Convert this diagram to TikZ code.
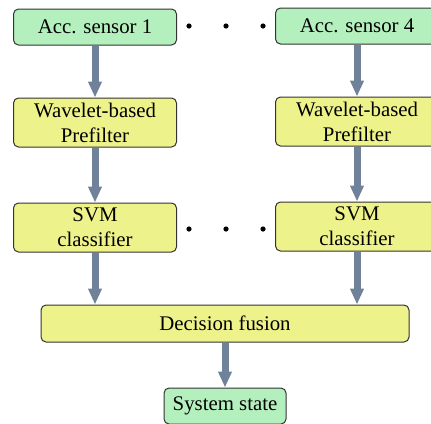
\documentclass[tikz,border=0pt]{standalone}
\usepackage{fontspec}
\setmainfont{Liberation Serif}
\usetikzlibrary{arrows.meta}
\definecolor{sensorgreen}{RGB}{180,240,190}
\definecolor{stageyellow}{RGB}{238,242,138}
\definecolor{flowgray}{RGB}{112,130,154}
\tikzset{
  block/.style={draw=black!80, line width=0.5pt, rounded corners=2.5pt, inner sep=0pt,
    align=center, font=\fontsize{10.4}{12.4}\selectfont},
  greenblock/.style={block, fill=sensorgreen, minimum width=81.5pt, minimum height=18pt},
  yellowblock/.style={block, fill=stageyellow, minimum width=81.5pt, minimum height=24.5pt},
  flow/.style={draw=flowgray, line width=3.5pt, -{Triangle[width=6.5pt,length=8pt]}},
}
\begin{document}
\begin{tikzpicture}[x=0.5pt, y=-0.5pt]
    \useasboundingbox (0,0) rectangle (431,423);
    \node (sens1) [greenblock] at (95,27) {Acc. sensor 1};
    \node (sens4) [greenblock] at (357,26) {Acc. sensor 4};
    \node (wave1) [yellowblock] at (95,122.5) {Wavelet-based\\Prefilter};
    \node (wave4) [yellowblock] at (357,121.5) {Wavelet-based\\Prefilter};
    \node (svm1) [yellowblock] at (95,227.5) {SVM\\classifier};
    \node (svm4) [yellowblock] at (357,226.5) {SVM\\classifier};
    \node (fuse) [block, fill=stageyellow, minimum width=184pt, minimum height=18.5pt] at (225,323.5) {Decision fusion};
    \node (state) [greenblock, minimum width=61pt] at (225,406) {System state};
    \foreach \x in {189,226,263} {
      \fill (\x,26) circle (1.3pt);
      \fill (\x,229) circle (1.3pt);
    }
    \draw[flow] (sens1) -- (wave1);
    \draw[flow] (sens4) -- (wave4);
    \draw[flow] (wave1) -- (svm1);
    \draw[flow] (wave4) -- (svm4);
    \draw[flow] (svm1) -- (svm1 |- fuse.north);
    \draw[flow] (svm4) -- (svm4 |- fuse.north);
    \draw[flow] (fuse) -- (state);
\end{tikzpicture}
\end{document}
